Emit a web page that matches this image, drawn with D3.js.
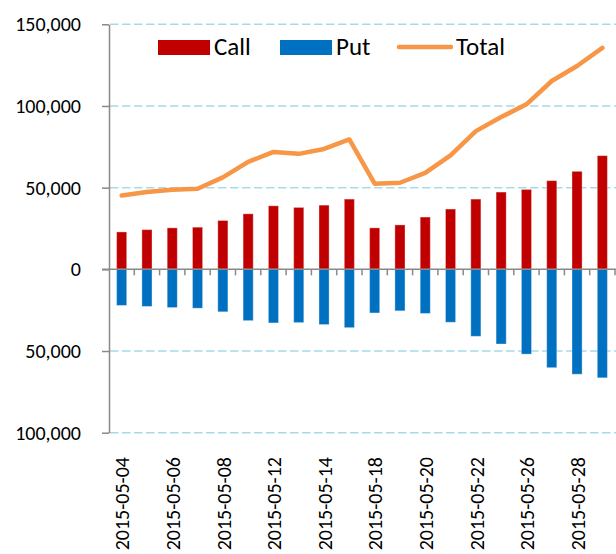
<!DOCTYPE html>
<html>
<head>
<meta charset="utf-8">
<script src="https://cdn.jsdelivr.net/npm/d3@7"></script>
<style>
    html, body { margin: 0; padding: 0; background: #ffffff; }
    svg { display: block; font-family: Carlito, Calibri, "Open Sans", sans-serif; font-weight: 400; }
</style>
</head>
<body>
<svg id="chart" width="616" height="554"></svg>
<script>
// Trading days (May 2015)
const dates = [
    '2015-05-04', '2015-05-05', '2015-05-06', '2015-05-07', '2015-05-08',
    '2015-05-11', '2015-05-12', '2015-05-13', '2015-05-14', '2015-05-15',
    '2015-05-18', '2015-05-19', '2015-05-20', '2015-05-21', '2015-05-22',
    '2015-05-25', '2015-05-26', '2015-05-27', '2015-05-28', '2015-05-29'
];

// Call volume (above zero)
const callValues = [
    22900, 24300, 25400, 25800, 29900, 34000, 38900, 37900, 39300, 43000,
    25400, 27200, 32000, 36900, 43000, 47300, 48900, 54300, 60000, 69600
];

// Put volume (drawn below zero)
const putValues = [
    22100, 22700, 23400, 23800, 26000, 31400, 32800, 32600, 33800, 35700,
    26700, 25400, 27000, 32400, 41000, 45700, 51900, 60200, 64200, 66400
];

// Total volume (line)
const totalValues = [
    45200, 47300, 48700, 49300, 56300, 65800, 71900, 70700, 73700, 79500,
    52400, 53000, 59000, 69800, 84600, 93200, 101000, 115300, 124500, 135600
];

const yTicks = [-100000, -50000, 0, 50000, 100000, 150000];

// Colores estilo Excel
const colors = {
    call: '#C00000',
    put: '#0070C0',
    total: '#F79646',
    grid: '#A9D9E7',
    axis: '#898989'
};

const fontStack = 'Carlito, Calibri, "Open Sans", sans-serif';

function drawChart() {
    const svg = d3.select('#chart');

    const x = d3.scaleBand()
        .domain(dates)
        .range([109, 615])
        .paddingInner(0.6)
        .paddingOuter(0.3);

    const y = d3.scaleLinear()
        .domain([-100000, 150000])
        .range([432.7, 24.3]);

    const step = x.step();
    const x0 = x.range()[0];

    // Lineas de cuadricula
    svg.append('g')
        .selectAll('line')
        .data(yTicks.filter(d => d !== 0))
        .enter()
        .append('line')
        .attr('x1', 110)
        .attr('x2', 616)
        .attr('y1', d => y(d))
        .attr('y2', d => y(d))
        .attr('stroke', colors.grid)
        .attr('stroke-width', 1.5)
        .attr('stroke-dasharray', '8.5,3.5');

    // Barras Call
    svg.append('g')
        .selectAll('rect')
        .data(dates)
        .enter()
        .append('rect')
        .attr('x', d => x(d))
        .attr('width', x.bandwidth())
        .attr('y', (d, i) => y(callValues[i]))
        .attr('height', (d, i) => y(0) - y(callValues[i]))
        .attr('fill', colors.call)
        .attr('stroke', '#ffffff')
        .attr('stroke-opacity', 0.35)
        .attr('stroke-width', 1);

    // Barras Put
    svg.append('g')
        .selectAll('rect')
        .data(dates)
        .enter()
        .append('rect')
        .attr('x', d => x(d))
        .attr('width', x.bandwidth())
        .attr('y', y(0))
        .attr('height', (d, i) => y(-putValues[i]) - y(0))
        .attr('fill', colors.put)
        .attr('stroke', '#ffffff')
        .attr('stroke-opacity', 0.35)
        .attr('stroke-width', 1);

    // Eje Y
    const yAxis = svg.append('g')
        .attr('transform', `translate(${x0},0)`)
        .call(d3.axisLeft(y)
            .tickValues(yTicks)
            .tickSize(7)
            .tickSizeOuter(0)
            .tickPadding(21)
            .tickFormat(d => d3.format(',')(Math.abs(d))));
    yAxis.select('.domain').attr('stroke', colors.axis).attr('stroke-width', 1.5);
    yAxis.selectAll('.tick line').attr('stroke', colors.axis).attr('stroke-width', 1.5);
    yAxis.selectAll('.tick text')
        .attr('fill', '#000')
        .style('font-size', '20px')
        .style('font-family', fontStack);

    // Eje X en cero
    svg.append('line')
        .attr('x1', x0 - 7)
        .attr('x2', 616)
        .attr('y1', y(0))
        .attr('y2', y(0))
        .attr('stroke', colors.axis)
        .attr('stroke-width', 1.5);

    svg.append('g')
        .selectAll('line')
        .data(dates)
        .enter()
        .append('line')
        .attr('x1', (d, i) => x0 + (i + 1) * step)
        .attr('x2', (d, i) => x0 + (i + 1) * step)
        .attr('y1', y(0))
        .attr('y2', y(0) + 6)
        .attr('stroke', colors.axis)
        .attr('stroke-width', 1.5);

    // Etiquetas de fecha (una de cada dos)
    svg.append('g')
        .selectAll('text')
        .data(dates.filter((d, i) => i % 2 === 0))
        .enter()
        .append('text')
        .attr('transform', d => `translate(${x(d) + x.bandwidth() / 2 + 7.7},457) rotate(-90)`)
        .attr('text-anchor', 'end')
        .attr('fill', '#000')
        .style('font-size', '20px')
        .text(d => d);

    // Linea Total
    const line = d3.line()
        .x((d, i) => x(dates[i]) + x.bandwidth() / 2)
        .y(d => y(d));

    svg.append('path')
        .datum(totalValues)
        .attr('fill', 'none')
        .attr('stroke', colors.total)
        .attr('stroke-width', 4.5)
        .attr('stroke-linejoin', 'round')
        .attr('stroke-linecap', 'round')
        .attr('d', line);

    // Leyenda
    const legend = svg.append('g').style('font-size', '25px');

    legend.append('rect')
        .attr('x', 158).attr('y', 40).attr('width', 52).attr('height', 15)
        .attr('fill', colors.call);
    legend.append('text').attr('x', 214).attr('y', 55).text('Call');

    legend.append('rect')
        .attr('x', 280).attr('y', 40).attr('width', 52).attr('height', 15)
        .attr('fill', colors.put);
    legend.append('text').attr('x', 336).attr('y', 55).text('Put');

    legend.append('line')
        .attr('x1', 399).attr('x2', 451).attr('y1', 47).attr('y2', 47)
        .attr('stroke', colors.total)
        .attr('stroke-width', 4.5)
        .attr('stroke-linecap', 'round');
    legend.append('text').attr('x', 456).attr('y', 55).text('Total');
}

drawChart();
</script>
</body>
</html>
